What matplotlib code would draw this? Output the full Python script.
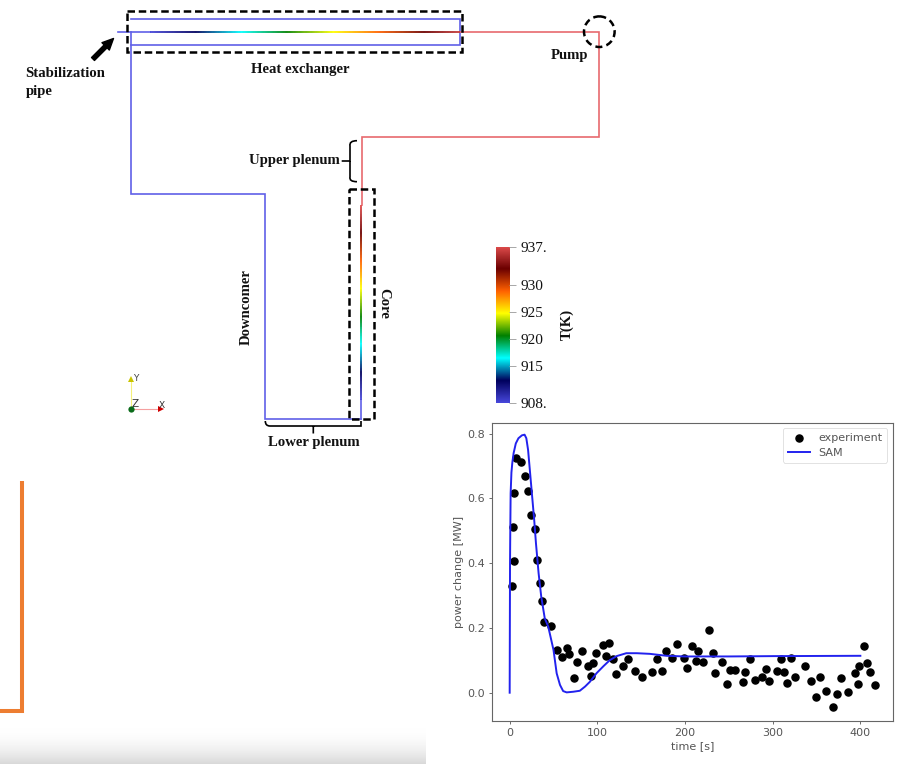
import matplotlib
matplotlib.use("Agg")
import matplotlib.pyplot as plt
import numpy as np
from matplotlib.collections import LineCollection
from matplotlib.colors import LinearSegmentedColormap, Normalize
from matplotlib.patches import Circle, PathPatch, Rectangle
from matplotlib.path import Path

W, H = 897, 764

# experiment points
exp_t = [2.3, 4.6, 4.2, 5.3, 6.8, 13.3, 17, 21.3, 24.3, 29, 30.8, 34.6, 36.5, 39, 47.5, 53.6, 59.7, 65, 67.7, 73.8,
         77.2, 82.5, 89.4, 95.4, 93, 98, 106.8, 113.3, 110, 117.5, 121.7, 128.9, 135.4, 143, 151, 162.4, 168, 173.4,
         178, 185.5, 190.9, 199.2, 202.2, 207.5, 215.1, 212.8, 220.4, 226.9, 231.5, 234.1, 241.7, 248.2, 251.6, 257.3,
         265.7, 268.7, 273.7, 279.8, 287.7, 291.9, 296.1, 305.2, 309, 313.2, 316.6, 321.2, 325, 336.8, 343.3, 349,
         353.5, 361.1, 368.4, 373.7, 378.2, 385.8, 393.5, 396.9, 398.8, 403.7, 407.1, 411.3, 416.3]
exp_p = [.33, .406, .513, .618, .726, .713, .67, .623, .548, .506, .411, .338, .283, .217, .207, .132, .11, .137, .12, .045,
         .095, .128, .084, .092, .053, .123, .147, .152, .114, .105, .058, .084, .103, .067, .05, .064, .103, .067,
         .13, .108, .149, .108, .077, .144, .128, .098, .096, .193, .123, .06, .096, .027, .07, .07,
         .032, .063, .105, .038, .047, .072, .035, .067, .105, .063, .03, .108, .049, .082, .035, -.012,
         .049, .005, -.045, -.005, .044, .002, .06, .027, .082, .144, .093, .063, .023]

# SAM curve
sam_t = [0, .2, .4, .7, 1.1, 2, 3, 4.5, 7, 10, 14, 17, 19, 21, 23, 25, 28, 30, 33, 36, 40, 44, 50, 53.6, 57.4, 61, 65,
         72.6, 80, 86, 91.6, 99, 107, 114, 122, 133, 145, 160, 179, 200, 250, 300, 400]
sam_p = [0, .2, .4, .5, .616, .68, .71, .74, .77, .786, .795, .797, .786, .75, .688, .626, .533, .461, .369, .297, .23,
         .204, .132, .06, .024, .005, .001, .003, .006, .019, .034, .06, .082, .1, .113, .122, .122, .12, .114, .112,
         .112, .113, .114]

# colour bar
temp_ticks = [908, 915, 920, 925, 930, 937]
temp_labels = ["908.", "915", "920", "925", "930", "937."]
rainbow_desat = ["#4747db", "#00005c", "#00ffff", "#008000", "#ffff00", "#ff6100", "#6b0000", "#e04d4d"]

# pipes of the loop, in image pixels
cold_pipes = [
    ([118, 150], [32.3, 32.3]),
    ([131, 131, 265.3, 265.3, 361.3], [32.3, 194.3, 194.3, 419, 419]),
    ([131, 460, 460, 131], [18.7, 18.7, 45, 45]),
    ([361.3, 361.3], [419, 400]),
]
hot_pipe = ([460, 599, 599, 361.5, 361.5], [32.3, 32.3, 137.3, 137.3, 205])
hx_x = [150, 470]
hx_temp = [908, 937]
core_y = [400, 205]
core_temp = [908, 937]

fig = plt.figure(figsize=(W / 100, H / 100), dpi=100)

def px_axes(left, top, right, bottom, **kw):
    return fig.add_axes([left / W, 1 - bottom / H, (right - left) / W, (bottom - top) / H], **kw)

bg = px_axes(0, 0, W, H)
bg.axis("off")

cmap = LinearSegmentedColormap.from_list("rainbow_desat", rainbow_desat)
norm = Normalize(908, 937)

# grey fade at the bottom left
fade = LinearSegmentedColormap.from_list("fade", ["#ffffff", "#d9d9d9"])
bg.imshow(np.linspace(0, 1, 64)[:, None] ** 2, extent=[0, 426, 764, 726], cmap=fade, aspect="auto", zorder=0)
bg.set_xlim(0, W)
bg.set_ylim(H, 0)

# orange corner
bg.plot([22, 22, 0], [481, 710.7, 710.7], color="#ed7d31", lw=2.9, solid_joinstyle="miter", solid_capstyle="butt")

# loop
for xs, ys in cold_pipes:
    bg.plot(xs, ys, color="#6060e8", lw=1.2, solid_joinstyle="miter")
bg.plot(hot_pipe[0], hot_pipe[1], color="#e8696e", lw=1.2, solid_joinstyle="miter")

def gradient_line(xs, ys, ts):
    pts = np.column_stack([xs, ys]).reshape(-1, 1, 2)
    segs = np.concatenate([pts[:-1], pts[1:]], axis=1)
    lc = LineCollection(segs, cmap=cmap, norm=norm, linewidths=1.3, zorder=3)
    lc.set_array((ts[:-1] + ts[1:]) / 2)
    bg.add_collection(lc)

hx_px = np.linspace(hx_x[0], 460, 310)
gradient_line(hx_px, np.full_like(hx_px, 32.3), np.interp(hx_px, hx_x, hx_temp))
core_px = np.linspace(core_y[0], core_y[1], 200)
gradient_line(np.full_like(core_px, 361.4), core_px, np.interp(core_px, core_y[::-1], core_temp[::-1]))

# dashed boxes and pump
dash = dict(fill=False, ec="black", lw=1.8, ls=(0, (3.0, 1.5)), zorder=5)
bg.add_patch(Rectangle((126.7, 11), 335, 41, **dash))
bg.add_patch(Rectangle((349, 188.7), 24.7, 230.3, **dash))
bg.add_patch(Circle((599.3, 31.7), 15.3, fill=False, ec="black", lw=1.8, ls=(0, (2.8, 1.7)), zorder=5))

# braces
upper = Path([(357, 140.7), (349, 140.7), (350, 146), (350, 155), (350, 161), (341.7, 161),
              (350, 161), (350, 168), (350, 177), (349, 181.7), (357, 181.7)],
             [Path.MOVETO, Path.CURVE3, Path.CURVE3, Path.LINETO, Path.LINETO, Path.LINETO,
              Path.MOVETO, Path.LINETO, Path.LINETO, Path.CURVE3, Path.CURVE3])
bg.add_patch(PathPatch(upper, fill=False, ec="black", lw=1.2))
lower = Path([(265.3, 421), (265.3, 426), (270, 426), (361, 426), (361, 421), (313.3, 426), (313.3, 433.5)],
             [Path.MOVETO, Path.CURVE3, Path.CURVE3, Path.LINETO, Path.LINETO, Path.MOVETO, Path.LINETO])
bg.add_patch(PathPatch(lower, fill=False, ec="black", lw=1.2))

# arrow to the stabilization pipe
bg.annotate("", xy=(113.5, 38.5), xytext=(93, 59),
            arrowprops=dict(arrowstyle="simple,head_width=0.75,head_length=0.8,tail_width=0.3", fc="black", ec="black",
                            shrinkA=0, shrinkB=0))

# labels on the diagram
lab = dict(family="Liberation Serif", weight="bold", fontsize=10.6, color="#111111")
bg.text(25.5, 73.5, "Stabilization", ha="left", va="center", **lab)
bg.text(25.5, 92, "pipe", ha="left", va="center", **lab)
bg.text(300.5, 69.5, "Heat exchanger", ha="center", va="center", **lab)
bg.text(569.5, 55, "Pump", ha="center", va="center", **lab)
bg.text(294, 160.5, "Upper plenum", ha="center", va="center", **lab)
bg.text(246, 307, "Downcomer", ha="center", va="center", rotation=90, **lab)
bg.text(384, 303.5, "Core", ha="center", va="center", rotation=270, **lab)
bg.text(313.5, 442.5, "Lower plenum", ha="center", va="center", **lab)
bg.text(567.5, 324, "T(K)", ha="center", va="center", rotation=90, **lab)

# orientation triad
bg.plot([130.7, 130.7], [408.5, 380], color="#f5f07a", lw=0.8)
bg.plot([130.7, 160], [408.5, 408.5], color="#f5a0a0", lw=0.8)
bg.plot([130.7], [378.8], marker="^", ms=5, color="#c9c400", mew=0)
bg.plot([160.5], [408.5], marker=">", ms=5, color="#d00000", mew=0)
bg.plot([130.7], [408.5], marker="o", ms=4.5, color="#0a6b1a", mew=0, zorder=4)
bg.text(135.5, 378.5, "Y", fontsize=6.5, ha="center", va="center", color="#444444")
bg.text(135.5, 404, "Z", fontsize=7.5, ha="center", va="center", color="#333333")
bg.text(161.5, 405, "X", fontsize=6.5, ha="center", va="center", color="#333333")

# colour bar
cb = px_axes(496, 246.7, 509.3, 403.3)
cb.imshow(np.linspace(908, 937, 256)[:, None], origin="lower", extent=[0, 1, 908, 937], cmap=cmap, norm=norm, aspect="auto")
cb.set_xticks([])
cb.yaxis.tick_right()
cb.set_yticks(temp_ticks)
cb.set_yticklabels(temp_labels, family="Liberation Serif", fontsize=11, color="#111111")
cb.tick_params(axis="y", length=5, width=0.6, color="#999999", pad=3)
for s in cb.spines.values():
    s.set_visible(False)

# power plot
ax = px_axes(491.7, 422.7, 892.7, 721)
ax.scatter(exp_t, exp_p, s=26, color="black", label="experiment", zorder=2)
ax.plot(sam_t, sam_p, color="#2222ee", lw=1.4, label="SAM", zorder=3)
ax.set_xlim(-20.5, 436.9)
ax.set_ylim(-0.0874, 0.834)
ax.set_xticks([0, 100, 200, 300, 400])
ax.set_yticks([0.0, 0.2, 0.4, 0.6, 0.8])
ax.tick_params(length=2.5, width=0.6, labelsize=8, colors="#555555", pad=2.5)
ax.set_xlabel("time [s]", fontsize=8, color="#555555", labelpad=2)
ax.set_ylabel("power change [MW]", fontsize=8, color="#555555", labelpad=2.5)
for s in ax.spines.values():
    s.set_color("#666666")
    s.set_linewidth(0.8)
leg = ax.legend(loc="upper right", fontsize=8, bbox_to_anchor=(0.9865, 0.982), borderaxespad=0, labelcolor="#555555",
                handlelength=2.0, framealpha=0.8)
leg.get_frame().set_linewidth(0.5)

fig.savefig("out.png", dpi=100)
